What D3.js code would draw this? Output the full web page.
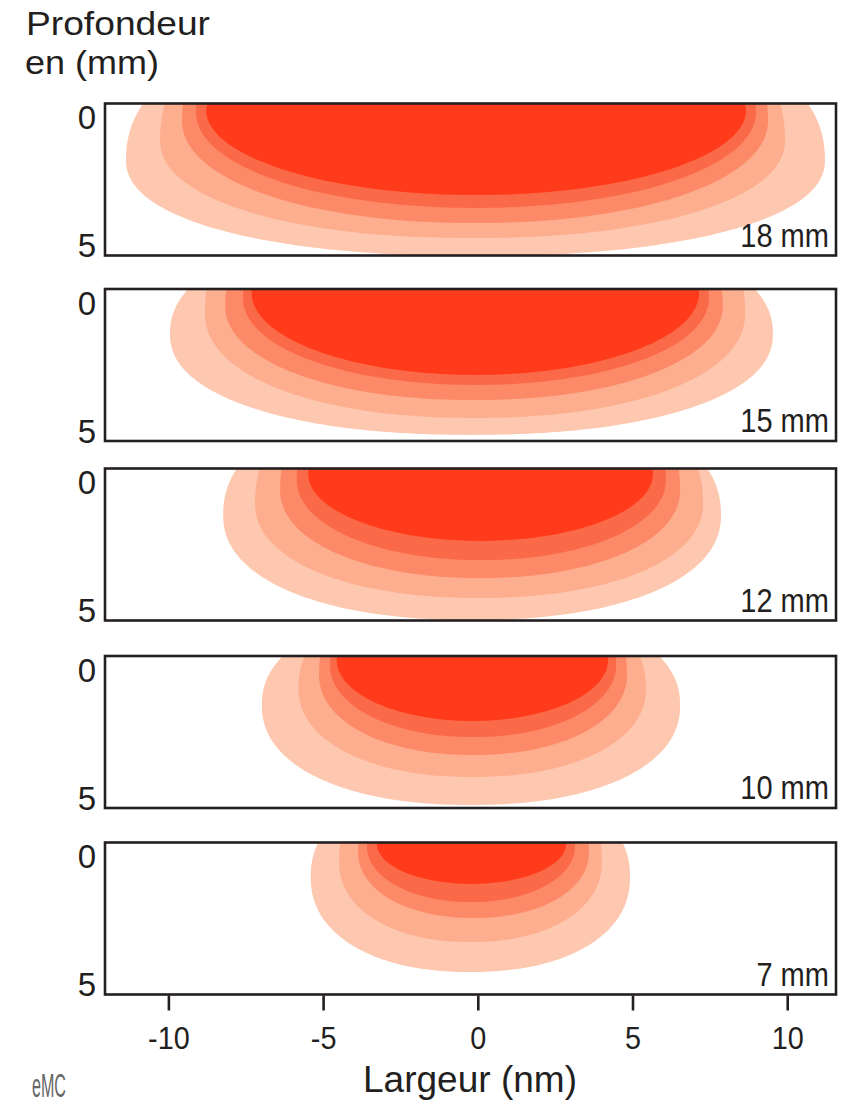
<!DOCTYPE html>
<html><head><meta charset="utf-8">
<script src="https://cdn.jsdelivr.net/npm/d3@7"></script>
<style>
html,body{margin:0;padding:0;background:#fff;}
svg{display:block;font-family:"Liberation Sans",Arial,sans-serif;}
</style></head>
<body><svg id="chart" width="849" height="1104"></svg>
<script>
// ---- data (width in nm, depth in mm) ----
const panelLabels = ["18 mm", "15 mm", "12 mm", "10 mm", "7 mm"];
const xTicks = [-10, -5, 0, 5, 10];
const yTicks = [0, 5];
const layerColors = ["#FEC8B0", "#FDAE8E", "#FC8A68", "#FB6A48", "#FF3B1B"];
// per panel, layers from outermost to innermost
const leftEdge = [
  [-11.37, -10.27, -9.56, -9.11, -8.78],
  [-9.95, -8.82, -8.17, -7.59, -7.31],
  [-8.23, -7.20, -6.39, -5.85, -5.48],
  [-6.98, -5.80, -5.13, -4.78, -4.56],
  [-5.40, -4.48, -3.87, -3.58, -3.26]
];
const rightEdge = [
  [11.22, 9.93, 9.38, 8.99, 8.67],
  [9.54, 8.64, 7.92, 7.47, 7.15],
  [7.86, 7.28, 6.54, 6.08, 5.66],
  [6.54, 5.44, 4.82, 4.47, 4.21],
  [4.92, 4.01, 3.59, 3.14, 2.85]
];
// left edge where the layer meets the surface (top of the panel)
const surfaceLeft = [
  [-10.82, -10.11, -9.53, -9.08, -8.72],
  [-9.36, -8.76, -8.12, -7.58, -7.31],
  [-7.79, -7.04, -6.34, -5.85, -5.48],
  [-6.30, -5.59, -5.10, -4.78, -4.56],
  [-5.16, -4.45, -3.87, -3.58, -3.26]
];
const widestDepth = [
  [1.74, 0.96, 0.18, -0.14, -0.21],
  [1.29, 0.47, 0.16, -0.12, -0.31],
  [1.35, 0.88, 0.37, -0.02, -0.25],
  [1.45, 0.78, 0.27, -0.12, -0.31],
  [0.88, 0.29, -0.10, -0.33, -0.41]
];
const maxDepth = [
  [5.49, 4.79, 4.20, 3.61, 3.11],
  [5.23, 4.57, 3.87, 3.28, 2.89],
  [5.45, 4.59, 3.81, 3.11, 2.36],
  [5.35, 4.26, 3.40, 2.70, 2.07],
  [4.59, 3.42, 2.48, 1.86, 1.15]
];

// ---- layout ----
const svg = d3.select("#chart");
const ink = "#231f20";
const boxLeft = 105, boxRight = 836, boxH = 152;
const panelTops = [103.5, 289, 468.5, 656, 842.5];
const shapeExp = [2.2, 2.15, 2.1, 2.05, 2.0];
const x = d3.scaleLinear().domain([-10, 10]).range([168.4, 787.2]);

function contour(cx, cy, rx, ryDown, ryUp, n) {
  const pts = d3.range(0, 360, 1.5).map(a => {
    const t = a * Math.PI / 180;
    const c = Math.cos(t), s = Math.sin(t);
    const px = cx + rx * Math.sign(c) * Math.pow(Math.abs(c), 2 / n);
    const ry = s >= 0 ? ryDown : ryUp;
    const py = cy + ry * Math.sign(s) * Math.pow(Math.abs(s), 2 / n);
    return [px, py];
  });
  return d3.line().curve(d3.curveLinearClosed)(pts);
}

panelLabels.forEach((lab, i) => {
  const top = panelTops[i];
  const y = d3.scaleLinear().domain([0, 5]).range([top + 12, top + 140]);
  const g = svg.append("g");
  const clipId = "clip" + i;
  svg.append("clipPath").attr("id", clipId)
    .append("rect").attr("x", boxLeft).attr("y", top).attr("width", boxRight - boxLeft).attr("height", boxH);

  const layers = layerColors.map((c, k) => {
    const n = shapeExp[k];
    const l = x(leftEdge[i][k]), r = x(rightEdge[i][k]);
    const cx = (l + r) / 2, rx = (r - l) / 2;
    const cy = y(widestDepth[i][k]);
    const ryDown = y(maxDepth[i][k]) - cy;
    const dyUp = cy - top;
    let ryUp = 2;
    if (dyUp > 0.5) {
      const a = 1 - (x(surfaceLeft[i][k]) - l) / rx;
      const rest = 1 - Math.pow(Math.min(a, 0.9999), n);
      ryUp = Math.min(dyUp / Math.pow(rest, 1 / n), dyUp * 12);
    }
    return { c, path: contour(cx, cy, rx, ryDown, ryUp, n) };
  });
  g.append("g").attr("clip-path", `url(#${clipId})`)
    .selectAll("path").data(layers).join("path")
    .attr("d", d => d.path).attr("fill", d => d.c);

  g.append("rect").attr("x", boxLeft).attr("y", top).attr("width", boxRight - boxLeft).attr("height", boxH)
    .attr("fill", "none").attr("stroke", ink).attr("stroke-width", 2.6);

  g.selectAll("text.yt").data(yTicks).join("text").attr("class", "yt")
    .attr("x", 96).attr("y", d => y(d)).attr("dy", "0.42em")
    .attr("text-anchor", "end").attr("font-size", 33).attr("fill", ink)
    .text(d => d);

  const t = g.append("text").attr("x", 829).attr("y", top + 143)
    .attr("text-anchor", "end").attr("font-size", 33)
    .attr("fill", ink).text(lab);
  const w = t.node().getComputedTextLength();
  t.attr("textLength", w * 0.88).attr("lengthAdjust", "spacingAndGlyphs");
});

// x axis under the last panel
const bottom = panelTops[4] + boxH;
const ax = svg.append("g").attr("transform", `translate(0,${bottom + 1})`)
  .call(d3.axisBottom(x).tickValues(xTicks).tickSize(15).tickPadding(16).tickFormat(d => String(d)));
ax.select(".domain").remove();
ax.selectAll("line").attr("stroke", ink).attr("stroke-width", 2.6);
ax.selectAll("text").attr("font-size", 32).attr("fill", ink)
  .attr("font-family", "Liberation Sans, Arial, sans-serif")
  .each(function () {
    const w = this.getComputedTextLength();
    d3.select(this).attr("textLength", w * 0.9).attr("lengthAdjust", "spacingAndGlyphs");
  });

svg.append("text").attr("x", 470).attr("y", 1092).attr("text-anchor", "middle")
  .attr("font-size", 36).attr("fill", ink).attr("textLength", 214).attr("lengthAdjust", "spacingAndGlyphs")
  .text("Largeur (nm)");

svg.append("text").attr("x", 26).attr("y", 35).attr("font-size", 34).attr("fill", ink)
  .attr("textLength", 184).attr("lengthAdjust", "spacingAndGlyphs").text("Profondeur");
svg.append("text").attr("x", 25).attr("y", 74).attr("font-size", 34).attr("fill", ink)
  .attr("textLength", 134).attr("lengthAdjust", "spacingAndGlyphs").text("en (mm)");

svg.append("text").attr("x", 32).attr("y", 1097).attr("font-size", 34).attr("fill", "#666")
  .attr("textLength", 34).attr("lengthAdjust", "spacingAndGlyphs").text("eMC");
</script></body></html>
